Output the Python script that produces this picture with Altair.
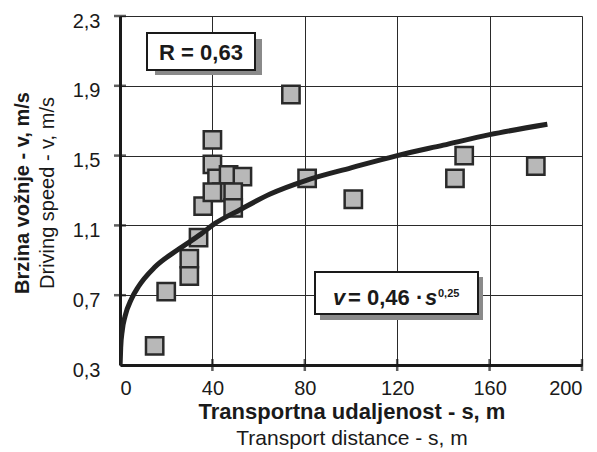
import altair as alt
import pandas as pd

# Measured points (transport distance s [m], driving speed v [m/s])
s_vals = [15, 20, 30, 30, 34, 36, 40, 40, 42, 47, 53, 44, 49, 40, 49, 74, 81, 101, 145, 149, 180]
v_vals = [0.41, 0.72, 0.91, 0.81, 1.03, 1.21, 1.59, 1.45, 1.37, 1.39, 1.38, 1.29, 1.29, 1.29, 1.20, 1.85, 1.37, 1.25, 1.37, 1.50, 1.44]

# Fitted curve v = 0.46 * s^0.25
curve_s = [0.05, 0.3, 1, 2.2, 5, 8, 15, 25, 35, 41, 52, 65, 81, 100, 120, 140, 160, 185]
curve_v = [0.30, 0.40, 0.50, 0.58, 0.68, 0.75, 0.86, 0.96, 1.05, 1.11, 1.19, 1.28, 1.36, 1.43, 1.50, 1.56, 1.62, 1.68]

x_ticks = [0, 40, 80, 120, 160, 200]
y_ticks = [0.3, 0.7, 1.1, 1.5, 1.9, 2.3]

pts = pd.DataFrame({"s": s_vals, "v": v_vals})
curve = pd.DataFrame({"s": curve_s, "v": curve_v})
xt = pd.DataFrame({"s": x_ticks[1:], "v": [y_ticks[0]] * (len(x_ticks) - 1)})
yt = pd.DataFrame({"s": [x_ticks[0]] * (len(y_ticks) - 1), "v": y_ticks[1:]})
one = pd.DataFrame({"a": [0]})

FONT = "Liberation Sans"
INK = "#1a1a1a"
xs = alt.Scale(domain=[0, 200], nice=False)
ys = alt.Scale(domain=[0.3, 2.3], nice=False)

X = alt.X("s:Q", scale=xs, axis=alt.Axis(
    values=x_ticks, title=None, labelFont=FONT, labelFontSize=20, labelColor=INK,
    labelPadding=13, tickSize=0, domainWidth=3, domainColor=INK,
    gridColor="#2a2a2a", gridWidth=1, gridOpacity=1,
    labelExpr="replace(datum.label, '.', ',')"))
Y = alt.Y("v:Q", scale=ys, axis=alt.Axis(
    values=y_ticks, title=None, format=".1f", labelFont=FONT, labelFontSize=20, labelColor=INK,
    labelPadding=20, labelOffset=5, tickSize=0, domainWidth=3, domainColor=INK,
    gridColor="#2a2a2a", gridWidth=1, gridOpacity=1,
    labelExpr="replace(datum.label, '.', ',')"))

base = alt.Chart(pts).mark_point(opacity=0).encode(x=X, y=Y)

xticks = alt.Chart(xt).mark_tick(orient="vertical", size=12, thickness=2.5, color=INK).encode(
    x=alt.X("s:Q", scale=xs), y=alt.Y("v:Q", scale=ys))
yticks = alt.Chart(yt).mark_tick(orient="horizontal", size=12, thickness=2.5, color=INK).encode(
    x=alt.X("s:Q", scale=xs), y=alt.Y("v:Q", scale=ys))

squares = alt.Chart(pts).mark_square(size=300, fill="#b8b8b8", fillOpacity=1,
                                      stroke="#2a2a2a", strokeWidth=2.5).encode(
    x=alt.X("s:Q", scale=xs), y=alt.Y("v:Q", scale=ys))

line = alt.Chart(curve).mark_line(color="#222", strokeWidth=5, interpolate="monotone", clip=True).encode(
    x=alt.X("s:Q", scale=xs), y=alt.Y("v:Q", scale=ys))

def box(x1, y1, x2, y2, fill, stroke=None, sw=0):
    kw = dict(fill=fill)
    if stroke:
        kw.update(stroke=stroke, strokeWidth=sw)
    return alt.Chart(one).mark_rect(**kw).encode(
        x=alt.value(x1), x2=alt.value(x2), y=alt.value(y1), y2=alt.value(y2))

def txt(t, x, y, size, weight="normal", style="normal", align="center", angle=0, baseline="alphabetic"):
    return alt.Chart(one).mark_text(text=t, font=FONT, fontSize=size, fontWeight=weight,
                                    fontStyle=style, align=align, angle=angle, baseline=baseline,
                                    color=INK).encode(x=alt.value(x), y=alt.value(y))

r_shadow = box(35, 23, 142, 59, "#8a8a8a")
r_box = box(27, 17, 135, 54, "white", INK, 2)
r_text = txt("R = 0,63", 81, 44, 22, weight="bold")

e_shadow = box(200, 261, 363, 304, "#8a8a8a")
e_box = box(195, 256, 358, 298, "white", INK, 2)
e_v = txt("v", 213, 289, 22, weight="bold", style="italic", align="left")
e_mid = txt("= 0,46 ·", 228, 289, 22, weight="bold", align="left")
e_s = txt("s", 305, 289, 22, weight="bold", style="italic", align="left")
e_sup = txt("0,25", 318, 281, 11, weight="bold", align="left")

xt1 = txt("Transportna udaljenost - s, m", 232, 403, 22, weight="bold")
xt2 = txt("Transport distance - s, m", 232, 429, 21)
yt1 = txt("Brzina vožnje - v, m/s", -97, 177, 20, weight="bold", angle=270, baseline="middle")
yt2 = txt("Driving speed - v, m/s", -72, 177, 20, angle=270, baseline="middle")

chart = alt.layer(
    base, xticks, yticks, squares, line,
    r_shadow, r_box, r_text,
    e_shadow, e_box, e_v, e_mid, e_s, e_sup,
    xt1, xt2, yt1, yt2,
).properties(
    width=462, height=349,
    autosize=alt.AutoSizeParams(type="none"),
    padding={"left": 112, "top": 8, "right": 7, "bottom": 86},
).configure_view(stroke=INK, strokeWidth=1.2).configure(background="white")

chart.save("out.html", embed_options={"renderer": "svg", "actions": False})
